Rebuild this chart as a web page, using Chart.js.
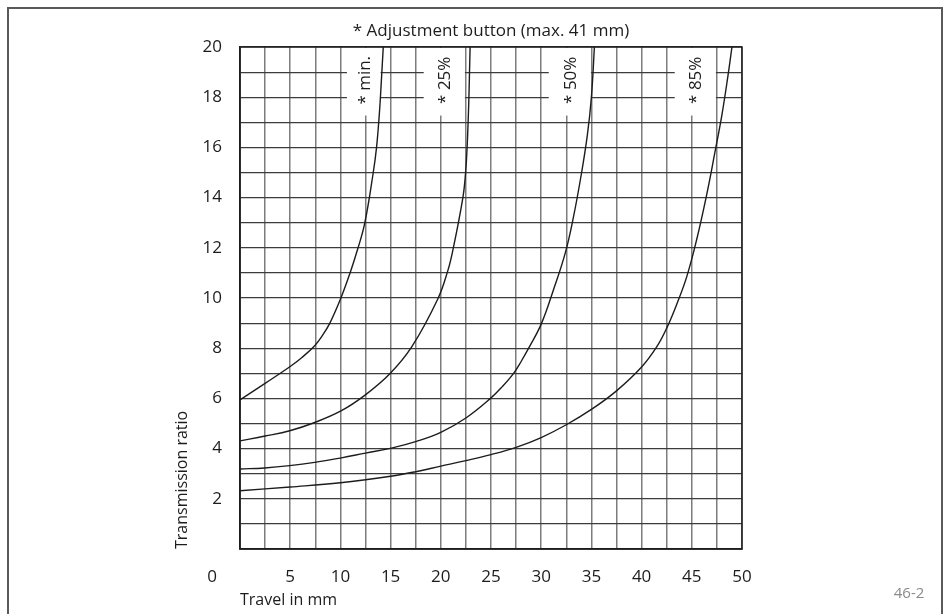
<!DOCTYPE html>
<html>
<head>
<meta charset="utf-8">
<script src="https://cdn.jsdelivr.net/npm/chart.js@4/dist/chart.umd.min.js"></script>
<style>html,body{margin:0;padding:0;background:#fff}canvas{display:block}</style>
</head>
<body>
<canvas id="c" width="950" height="614"></canvas>
<script>
// ---- data ----
const minTravel  = [0, 2.5, 5, 6.2, 7.44, 8.2, 8.95, 10.03, 10.93, 11.7, 12.42, 13.25, 13.6, 13.9, 14.08, 14.27];
const minRatio   = [5.94, 6.6, 7.27, 7.64, 8.1, 8.5, 9.0, 9.98, 10.96, 11.92, 12.97, 14.94, 16.0, 17.46, 18.66, 20];

const p25Travel  = [0, 2.5, 4.95, 7.44, 10.1, 12.42, 14.9, 17.1, 19.7, 20.7, 21.2, 22.2, 22.47, 22.62, 22.72, 22.8, 22.86, 22.92];
const p25Ratio   = [4.31, 4.5, 4.71, 5.04, 5.51, 6.12, 6.97, 8.05, 9.96, 11.09, 11.9, 14.0, 15, 16, 17, 18, 19, 20];

const p50Travel  = [0, 2.46, 4.95, 7.44, 10.1, 12.5, 15.08, 17.57, 20, 22.5, 24.95, 26.1, 27.25, 28.0, 28.75, 30.0, 31.2, 32.4, 33.2, 34.0, 34.6, 35.0, 35.3];
const p50Ratio   = [3.19, 3.23, 3.32, 3.45, 3.63, 3.82, 4.02, 4.29, 4.65, 5.22, 6.0, 6.46, 7.0, 7.47, 8.0, 8.96, 10.3, 11.8, 13.2, 14.94, 16.5, 18.0, 20];

const p85Travel  = [0, 5, 10, 15, 17.5, 20, 22.5, 25, 27.5, 30, 32.5, 35, 37.5, 40, 41.5, 42.5, 43.5, 44.5, 45.5, 46.5, 47.3, 48, 48.6, 49];
const p85Ratio   = [2.32, 2.47, 2.64, 2.9, 3.08, 3.3, 3.52, 3.76, 4.05, 4.44, 4.95, 5.56, 6.3, 7.25, 8.05, 8.8, 9.75, 10.85, 12.35, 14.15, 15.8, 17.3, 18.85, 20];

const seriesNames   = ['* min.', '* 25%', '* 50%', '* 85%'];
const seriesAnchors = [12.5, 20, 32.5, 45];          // travel (mm) where each curve label sits

const xTickLabels = ['0', '5', '10', '15', '20', '25', '30', '35', '40', '45', '50'];
const yTickLabels = ['0', '2', '4', '6', '8', '10', '12', '14', '16', '18', '20'];

const chartTitle = '* Adjustment button (max. 41 mm)';
const xTitle = 'Travel in mm';
const yTitle = 'Transmission ratio';
const figureId = '46-2';

// ---- styling ----
const FONT = "'Open Sans', 'Noto Sans', 'DejaVu Sans', sans-serif";
const INK = '#1c1c1c';
const boxSpans = [[-1.85, 1.5], [-1.7, 2.4], [-1.75, 2.45], [-1.7, 2.4]]; // label backdrop extent (mm)

const travels = [minTravel, p25Travel, p50Travel, p85Travel];
const ratios  = [minRatio, p25Ratio, p50Ratio, p85Ratio];

const decor = {
  id: 'decor',
  beforeDraw(chart) {
    const ctx = chart.ctx;
    ctx.save();
    ctx.fillStyle = '#fff';
    ctx.fillRect(0, 0, chart.width, chart.height);
    ctx.restore();
  },
  beforeDatasetsDraw(chart) {
    const {ctx, chartArea: a, scales: {x, y}} = chart;
    ctx.save();
    const boxBottom = y.getPixelForValue(17.27);
    seriesAnchors.forEach((mm, i) => {
      const l = x.getPixelForValue(mm + boxSpans[i][0]);
      const r = x.getPixelForValue(mm + boxSpans[i][1]);
      ctx.fillStyle = '#fff';
      ctx.fillRect(l, a.top + 1, r - l, boxBottom - a.top - 1);
      ctx.save();
      ctx.translate((l + r) / 2 + 1, (a.top + boxBottom) / 2 - 1);
      ctx.rotate(-Math.PI / 2);
      ctx.fillStyle = INK;
      ctx.font = '17px ' + FONT;
      ctx.textAlign = 'center';
      ctx.textBaseline = 'middle';
      ctx.fillText(seriesNames[i], 0, 0);
      ctx.restore();
    });
    ctx.strokeStyle = INK;
    ctx.lineWidth = 1.5;
    ctx.strokeRect(a.left, a.top, a.right - a.left, a.bottom - a.top);
    ctx.restore();
  },
  afterDraw(chart) {
    const {ctx, chartArea: a} = chart;
    ctx.save();
    ctx.fillStyle = INK;
    ctx.textAlign = 'center';
    ctx.textBaseline = 'middle';
    ctx.font = '17px ' + FONT;
    ctx.fillText(chartTitle, (a.left + a.right) / 2, 31);
    ctx.fillText(xTickLabels[0], 212, 577);
    ctx.fillStyle = '#8a8a8a';
    ctx.font = '15px ' + FONT;
    ctx.fillText(figureId, 909, 594);
    ctx.strokeStyle = '#5a5a5a';
    ctx.lineWidth = 2;
    ctx.strokeRect(8, 8, 934, 640);
    ctx.restore();
  }
};

new Chart(document.getElementById('c'), {
  type: 'line',
  data: {
    datasets: seriesNames.map((name, i) => ({
      label: name,
      data: travels[i].map((t, j) => ({x: t, y: ratios[i][j]})),
      borderColor: INK,
      borderWidth: 1.4,
      pointRadius: 0,
      fill: false,
      tension: 0.4,
      clip: 2
    }))
  },
  options: {
    responsive: false,
    animation: false,
    events: [],
    layout: {padding: {left: 0, top: 47, right: 208, bottom: 0}},
    plugins: {legend: {display: false}, tooltip: {enabled: false}, title: {display: false}},
    scales: {
      x: {
        type: 'linear', min: 0, max: 50,
        afterFit: s => { s.height = 65; },
        ticks: {
          stepSize: 2.5, autoSkip: false, maxRotation: 0, minRotation: 0, padding: 18,
          color: INK, font: {family: FONT, size: 17},
          callback: v => (v !== 0 && xTickLabels.includes(String(v))) ? String(v) : ''
        },
        grid: {color: '#7d7d7d', lineWidth: 1.5, drawTicks: false},
        border: {display: true, color: INK, width: 1.5},
        title: {display: true, text: xTitle, align: 'start', color: INK,
                font: {family: FONT, size: 16}, padding: {top: 0, bottom: 4}}
      },
      y: {
        type: 'linear', min: 0, max: 20,
        afterFit: s => { s.width = 240; },
        ticks: {
          stepSize: 1, autoSkip: false, padding: 18,
          color: INK, font: {family: FONT, size: 17},
          callback: v => (v !== 0 && yTickLabels.includes(String(v))) ? String(v) : ''
        },
        grid: {color: '#3c3c3c', lineWidth: 1.2, drawTicks: false},
        border: {display: true, color: INK, width: 1.5},
        title: {display: true, text: yTitle, align: 'start', color: INK,
                font: {family: FONT, size: 16}, padding: {top: 173, bottom: 0}}
      }
    }
  },
  plugins: [decor]
});
</script>
</body>
</html>
